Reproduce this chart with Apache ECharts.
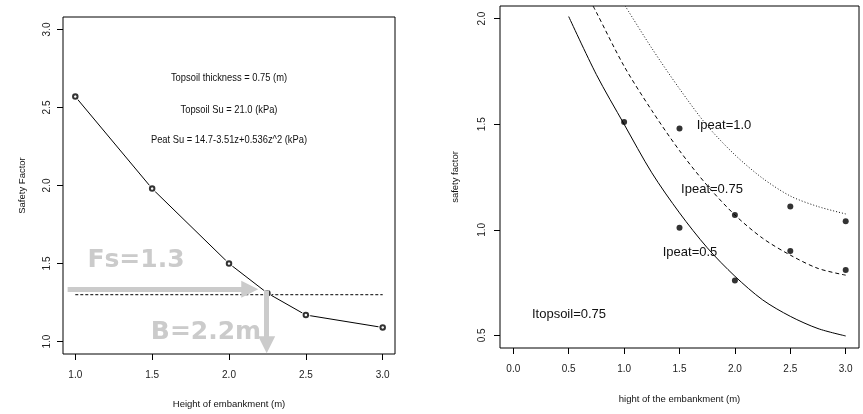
<!DOCTYPE html>
<html>
<head>
<meta charset="utf-8">
<script src="https://cdn.jsdelivr.net/npm/echarts@6/dist/echarts.min.js"></script>
<style>
  html, body { margin: 0; padding: 0; background: #fff; }
  #chart { width: 863px; height: 414px; }
</style>
</head>
<body>
<div id="chart"></div>
<script>
// Left panel: safety factor against embankment height (computed points)
const heightLeft = [1.0, 1.5, 2.0, 2.25, 2.5, 3.0];
const fsLeft = [2.57, 1.98, 1.50, 1.31, 1.17, 1.09];
const fsTarget = 1.3;
const targetSpan = [1.0, 3.0];
const leftTicksX = [1.0, 1.5, 2.0, 2.5, 3.0];
const leftTicksY = [1.0, 1.5, 2.0, 2.5, 3.0];

// Guide arrows: Fs = 1.3 read across, B = 2.2 m read down
const arrowAcross = [[0.95, 1.335], [2.135, 1.335]];
const arrowDown = [[2.245, 1.328], [2.245, 0.98]];

// Right panel: observed points and fitted curves for three peat thicknesses
const obsHeight = [1.0, 1.5, 1.5, 2.0, 2.0, 2.5, 2.5, 3.0, 3.0];
const obsFs = [1.51, 1.48, 1.01, 1.07, 0.76, 1.11, 0.90, 1.04, 0.81];

const h05 = [0.5, 0.75, 1.0, 1.25, 1.5, 1.75, 2.0, 2.25, 2.5, 2.75, 3.0];
const fs05 = [2.01, 1.735, 1.50, 1.27, 1.08, 0.915, 0.78, 0.668, 0.59, 0.532, 0.497];

const h075 = [0.72, 0.75, 1.0, 1.25, 1.5, 1.75, 2.0, 2.25, 2.5, 2.75, 3.0];
const fs075 = [2.06, 2.03, 1.775, 1.565, 1.375, 1.21, 1.07, 0.96, 0.88, 0.817, 0.785];

const h10 = [1.01, 1.25, 1.5, 1.75, 2.0, 2.25, 2.5, 2.75, 3.0];
const fs10 = [2.06, 1.86, 1.668, 1.493, 1.355, 1.244, 1.16, 1.11, 1.075];

const rightTicksX = [0.0, 0.5, 1.0, 1.5, 2.0, 2.5, 3.0];
const rightTicksY = [0.5, 1.0, 1.5, 2.0];

const zip = (xs, ys) => xs.map((x, i) => [x, ys[i]]);

const SANS = '"Liberation Sans", Arial, sans-serif';
const GUIDE = '#cbcbcb';

function axisX(min, max, ticks, name, gap, labelMargin) {
  return {
    type: 'value', min: min, max: max,
    name: name, nameLocation: 'middle', nameGap: gap,
    nameTextStyle: { fontFamily: SANS, fontSize: 9.5, color: '#111' },
    axisLine: { show: false, onZero: false },
    axisTick: { show: true, inside: false, length: 6, customValues: ticks,
                lineStyle: { color: '#000', width: 1 } },
    axisLabel: { customValues: ticks, margin: labelMargin, fontFamily: SANS, fontSize: 10,
                 color: '#222', formatter: v => v.toFixed(1) },
    splitLine: { show: false }
  };
}
function axisY(min, max, ticks, name, gap, labelMargin) {
  return {
    type: 'value', min: min, max: max,
    name: name, nameLocation: 'middle', nameGap: gap, nameRotate: 90,
    nameTextStyle: { fontFamily: SANS, fontSize: 9.5, color: '#111' },
    axisLine: { show: false, onZero: false },
    axisTick: { show: true, inside: false, length: 6, customValues: ticks,
                lineStyle: { color: '#000', width: 1 } },
    axisLabel: { customValues: ticks, margin: labelMargin, rotate: 90, fontFamily: SANS,
                 fontSize: 10, color: '#222', formatter: v => v.toFixed(1) },
    splitLine: { show: false }
  };
}

// annotation text, optionally condensed horizontally
function note(text, x, y, size, scaleX) {
  return { type: 'text', x: x, y: y, z: 10, scaleX: scaleX, scaleY: 1,
    style: { text: text, font: size + 'px ' + SANS, fill: '#111',
             align: 'center', verticalAlign: 'middle' } };
}

const chart = echarts.init(document.getElementById('chart'), null, { renderer: 'canvas' });

const option = {
  animation: false,
  backgroundColor: '#fff',
  grid: [
    { left: 63, top: 17, width: 332, height: 341, show: true, borderColor: '#000', borderWidth: 1,
      backgroundColor: 'transparent', containLabel: false },
    { left: 500, top: 6, width: 359, height: 342, show: true, borderColor: '#000', borderWidth: 1,
      backgroundColor: 'transparent', containLabel: false }
  ],
  xAxis: [
    Object.assign(axisX(0.92, 3.08, leftTicksX, 'Height of embankment (m)', 45, 16), { gridIndex: 0 }),
    Object.assign(axisX(-0.12, 3.12, rightTicksX, 'hight of the embankment (m)', 46, 16), { gridIndex: 1 })
  ],
  yAxis: [
    Object.assign(axisY(0.92, 3.08, leftTicksY, 'Safety Factor', 36, 11), { gridIndex: 0 }),
    Object.assign(axisY(0.44, 2.06, rightTicksY, 'safety factor', 40, 13), { gridIndex: 1 })
  ],
  series: [
    // left: connecting line
    { type: 'line', xAxisIndex: 0, yAxisIndex: 0, data: zip(heightLeft, fsLeft),
      showSymbol: false, lineStyle: { color: '#000', width: 1 }, z: 2, silent: true },
    // white halo around each point so the line stops short of it
    { type: 'scatter', xAxisIndex: 0, yAxisIndex: 0, data: zip(heightLeft, fsLeft),
      symbol: 'circle', symbolSize: 9, itemStyle: { color: '#fff' }, z: 3, silent: true },
    { type: 'scatter', xAxisIndex: 0, yAxisIndex: 0, data: zip(heightLeft, fsLeft),
      symbol: 'emptyCircle', symbolSize: 4.5,
      itemStyle: { color: '#000', borderColor: '#000', borderWidth: 1 }, z: 4, silent: true },
    // left: required safety factor with guide arrows
    { type: 'line', xAxisIndex: 0, yAxisIndex: 0,
      data: targetSpan.map(x => [x, fsTarget]), showSymbol: false,
      lineStyle: { color: '#000', width: 1, type: [3, 2] }, z: 1, silent: true,
      markLine: {
        silent: true, animation: false, z: 5,
        symbol: ['none', 'triangle'], symbolSize: [17, 17],
        label: { show: false },
        lineStyle: { color: GUIDE, width: 5, type: 'solid' },
        itemStyle: { color: GUIDE },
        data: [
          [{ coord: arrowAcross[0] }, { coord: arrowAcross[1] }],
          [{ coord: arrowDown[0] }, { coord: arrowDown[1] }]
        ]
      }
    },
    // right: fitted curves
    { type: 'line', xAxisIndex: 1, yAxisIndex: 1, data: zip(h05, fs05), smooth: 0.3,
      showSymbol: false, clip: true,
      lineStyle: { color: '#000', width: 1 }, silent: true },
    { type: 'line', xAxisIndex: 1, yAxisIndex: 1, data: zip(h075, fs075), smooth: 0.3,
      showSymbol: false, clip: true,
      lineStyle: { color: '#000', width: 1, type: [4, 3] }, silent: true },
    { type: 'line', xAxisIndex: 1, yAxisIndex: 1, data: zip(h10, fs10), smooth: 0.3,
      showSymbol: false, clip: true,
      lineStyle: { color: '#111', width: 1, type: [1, 2] }, silent: true },
    // right: observed points
    { type: 'scatter', xAxisIndex: 1, yAxisIndex: 1, data: zip(obsHeight, obsFs),
      symbol: 'circle', symbolSize: 6, itemStyle: { color: '#000' }, z: 5, silent: true }
  ],
  graphic: [
    note('Topsoil thickness = 0.75 (m)', 229, 78, 11, 0.85),
    note('Topsoil Su = 21.0 (kPa)', 229, 110, 11, 0.85),
    note('Peat Su = 14.7-3.51z+0.536z^2 (kPa)', 229, 140, 11, 0.85),
    { type: 'text', x: 136, y: 260, z: 10, style: { text: 'Fs=1.3', font: 'bold 25px "DejaVu Sans", sans-serif',
      fill: GUIDE, align: 'center', verticalAlign: 'middle' } },
    { type: 'text', x: 206, y: 332, z: 10, style: { text: 'B=2.2m', font: 'bold 25px "DejaVu Sans", sans-serif',
      fill: GUIDE, align: 'center', verticalAlign: 'middle' } },
    note('Ipeat=1.0', 724, 125, 13, 1),
    note('Ipeat=0.75', 712, 189, 13, 1),
    note('Ipeat=0.5', 690, 252, 13, 1),
    note('Itopsoil=0.75', 569, 314, 13, 1)
  ]
};

chart.setOption(option);
</script>
</body>
</html>
